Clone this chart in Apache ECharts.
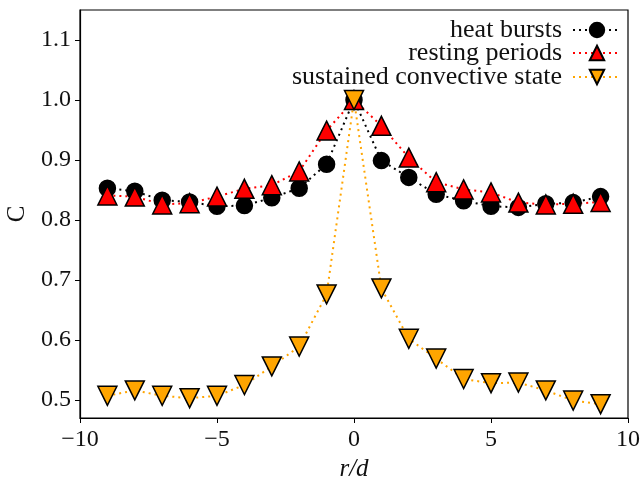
<!DOCTYPE html>
<html>
<head>
<meta charset="utf-8">
<script src="https://cdn.jsdelivr.net/npm/echarts@6/dist/echarts.min.js"></script>
<style>
  html, body { margin: 0; padding: 0; background: #fff; }
  #chart { width: 642px; height: 480px; }
</style>
</head>
<body>
<div id="chart"></div>
<script>
// r/d positions
var rd = [-9, -8, -7, -6, -5, -4, -3, -2, -1, 0, 1, 2, 3, 4, 5, 6, 7, 8, 9];

// correlation C
var heatBursts = [0.853, 0.848, 0.833, 0.830, 0.823, 0.824, 0.837, 0.853, 0.893, 1.0,
                  0.899, 0.871, 0.843, 0.832, 0.823, 0.821, 0.827, 0.829, 0.839];
var restingPeriods = [0.841, 0.839, 0.826, 0.828, 0.839, 0.852, 0.858, 0.881, 0.949, 1.0,
                      0.957, 0.904, 0.863, 0.851, 0.846, 0.829, 0.826, 0.827, 0.830];
var sustainedState = [0.507, 0.516, 0.507, 0.503, 0.507, 0.525, 0.556, 0.589, 0.676, 1.0,
                      0.686, 0.602, 0.569, 0.535, 0.528, 0.529, 0.516, 0.499, 0.493];

var seriesNames = ['heat bursts', 'resting periods', 'sustained convective state'];
var yTicks = [0.5, 0.6, 0.7, 0.8, 0.9, 1.0, 1.1];

function pairs(ys) {
    return rd.map(function (x, i) { return [x, ys[i]]; });
}

var font = '"Liberation Serif", "DejaVu Serif", serif';
var textColor = '#111';

var myChart = echarts.init(document.getElementById('chart'));

function makeSeries(name, data, color, symbol, rotate) {
    return {
        name: name,
        type: 'line',
        data: pairs(data),
        symbol: symbol,
        symbolSize: symbol == 'circle' ? 16 : 19,
        symbolRotate: rotate,
        showAllSymbol: true,
        lineStyle: { color: color, width: 2, type: [2, 4] },
        itemStyle: { color: color, borderColor: '#000', borderWidth: 1.5 },
        emphasis: { disabled: true }
    };
}

// one legend per row so the rows can sit as tight as in the reference
function makeLegend(name, top) {
    return {
        right: 20,
        top: top,
        padding: 0,
        orient: 'vertical',
        align: 'right',
        itemWidth: 48,
        itemHeight: 18,
        textStyle: { fontFamily: font, fontSize: 26, color: textColor, padding: [0, 6, 0, 0] },
        data: [name]
    };
}

var option = {
    animation: false,
    backgroundColor: '#fff',
    grid: {
        left: 80, right: 14, top: 10, bottom: 62,
        outerBoundsMode: 'none',
        show: true, borderColor: '#000', borderWidth: 1.2
    },
    legend: [
        makeLegend(seriesNames[0], 17),
        makeLegend(seriesNames[1], 40),
        makeLegend(seriesNames[2], 64)
    ],
    xAxis: {
        type: 'value',
        min: -10,
        max: 10,
        interval: 5,
        name: 'r/d',
        nameLocation: 'middle',
        nameGap: 35,
        nameTextStyle: { fontFamily: font, fontSize: 25, fontStyle: 'italic', color: textColor },
        axisLine: { onZero: false, lineStyle: { color: '#000', width: 1.2 } },
        axisTick: { length: 5, lineStyle: { color: '#000' } },
        axisLabel: {
            fontFamily: font, fontSize: 24, color: textColor, margin: 10,
            formatter: function (v) { return String(v).replace('-', '\u2212'); }
        },
        splitLine: { show: false }
    },
    yAxis: {
        type: 'value',
        min: 0.47,
        max: 1.15,
        name: 'C',
        nameLocation: 'middle',
        nameGap: 49,
        nameTextStyle: { fontFamily: font, fontSize: 25, color: textColor },
        axisLine: { show: true, onZero: false, lineStyle: { color: '#000', width: 1.2 } },
        axisTick: { show: true, length: 5, customValues: yTicks, lineStyle: { color: '#000' } },
        axisLabel: {
            fontFamily: font, fontSize: 24, color: textColor, margin: 9,
            customValues: yTicks,
            formatter: function (v) { return v.toFixed(1); }
        },
        splitLine: { show: false }
    },
    series: [
        makeSeries(seriesNames[0], heatBursts, '#000000', 'circle', 0),
        makeSeries(seriesNames[1], restingPeriods, '#ff0000', 'triangle', 0),
        makeSeries(seriesNames[2], sustainedState, '#ffa500', 'triangle', 180)
    ]
};

myChart.setOption(option);
</script>
</body>
</html>
